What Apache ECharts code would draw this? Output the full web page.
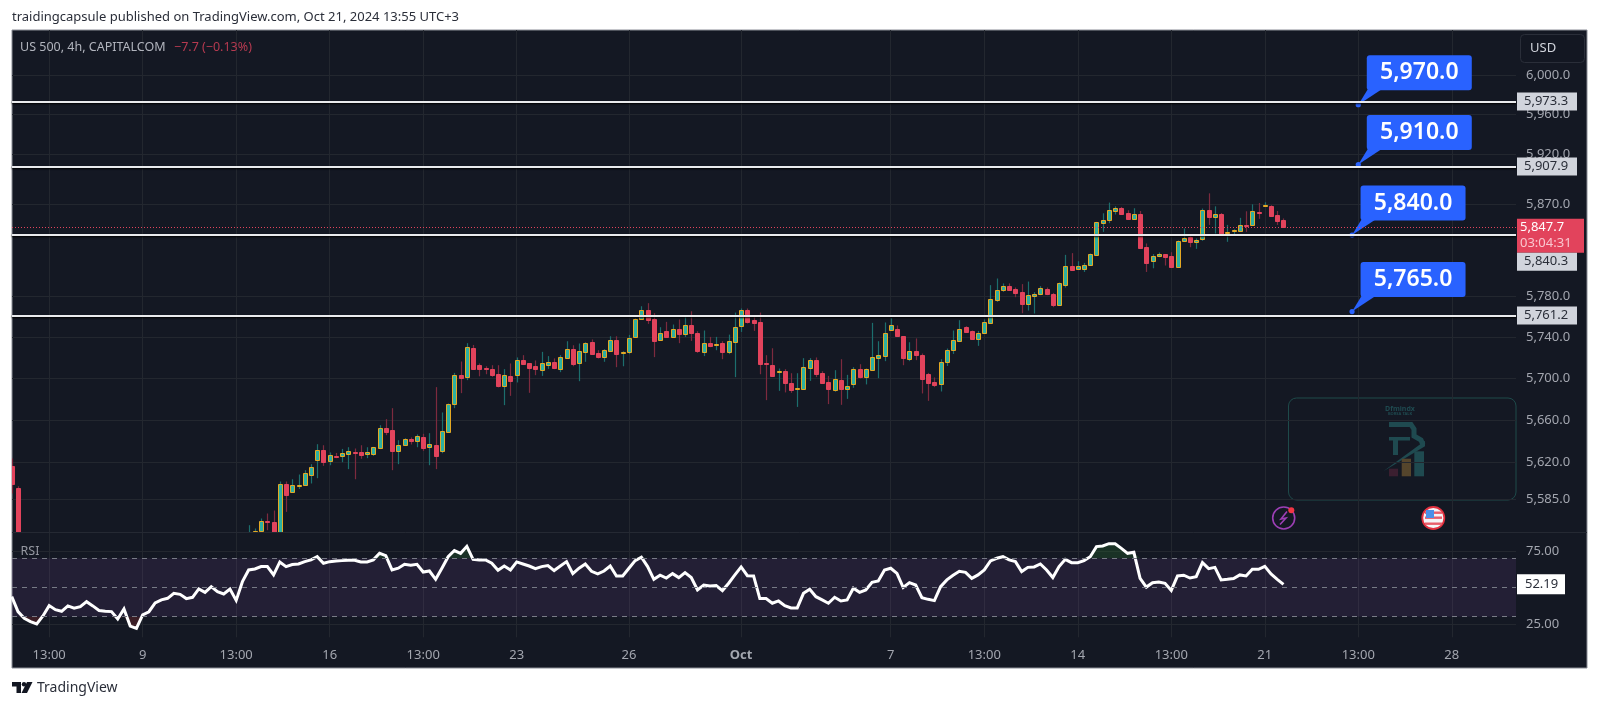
<!DOCTYPE html>
<html><head><meta charset="utf-8">
<style>html,body{margin:0;padding:0;background:#fff}#c{width:1600px;height:707px}</style>
<script src="https://cdn.jsdelivr.net/npm/echarts@6/dist/echarts.min.js"></script>
</head><body><div id="c"></div>
<script>
// Arrays start at bar -1. Bars -1, 0 and 37-203 are visible; bars 1-36 lie below the visible price range.
const firstBar = -1;
const hiddenBars = Array(36).fill(null);
const opens = [5616.7,5595.8,...hiddenBars,
5540,5554,5555,5564.5,5563.5,5550,5599.3,5592,5598.5,5598.4,5608.5,5621.8,5631.9,
5621.1,5626.5,5625.9,5627.8,5630,5629.4,5627.8,5627.8,5633.8,5652.9,5650.4,5630.4,5636.3,5642.7,5640.1,5643.7,5634.4,5636.3,5630.4,5649,
5675.3,5704,5701.5,5730,5713,5710.1,5709.8,5704.3,5692.8,5702.7,5703.1,5717.9,5714.7,5712,5708.2,5713.3,5716.3,5709.8,5720.1,5729.1,5715.3,5725.9,5735.9,5724.6,5720.8,5726.8,5737.5,5724.6,5725.3,5740.4,
5757.9,5767,5757.6,5737.2,5746.2,5740.4,5747.6,5743,5752.4,5744.6,5725.9,5734.3,5732.3,5734.6,5725.6,5735.6,5751,5767,5756.6,5754.7,5715,5713,5706.6,5707.2,5696,5690.2,5690.2,5710.4,5717.6,5705.3,5696.7,5689.3,5698.6,5690.2,5694.5,5709.8,5701.8,5707.9,5720.1,5721.8,
5746.9,5747.9,5741,5719.1,5726.5,5722.9,5704.3,5697,5694.8,5716,5727.5,5736.2,5749.8,5746.2,5738.8,5744,5754,5776.4,5785.9,5789.8,5786.6,5783.9,5772.2,5780.3,5782.2,5786.9,5782.2,5771.5,5791,5810,5806.7,5806.7,5810.3,5820.5,
5851.7,5854.7,5863.8,5867.1,5862.2,5856,5860.6,5828,5814.5,5818.9,5821.2,5819.2,5808.6,5833.7,5838,5832.7,5835.7,5864.5,5858,5861.2,5842.4,5844.1,5844.1,5850.4,5850,5863.2,5868.5,5869.2,5859.4,5854.7];
const closes = [5599.3,5545,...hiddenBars,
5550,5555,5564.5,5564,5545,5599.3,5589.2,5598.4,5599,5609.5,5615.4,5631.9,5620.2,
5626.8,5626,5628.7,5630.4,5629.4,5626.8,5629.4,5634.4,5652.9,5648.8,5630.9,5636.3,5642.7,5640.1,5645,5633.8,5637,5626.1,5649.4,5675.6,
5703.7,5700.5,5731,5709.8,5709.8,5708.9,5703.7,5692.8,5703.4,5697.6,5717.9,5714.3,5710.4,5708.9,5714.7,5716.3,5710.4,5720.5,5729.1,5714,5726.5,5734.3,5724.3,5720.8,5727.5,5737.5,5724.3,5725.6,5739.8,5757.3,
5766.6,5756.9,5736.2,5744.6,5740.4,5747.6,5743,5752.4,5744.3,5726.5,5734.3,5731.7,5733.3,5725.6,5736.2,5749.8,5767,5755,5754,5714,5714.3,5702.7,5707.2,5695.4,5689,5690.9,5711.1,5717.6,5704.3,5696,5690.2,5699.6,5690.2,5692.8,5709.5,5701.8,5708.9,5720.5,5722.4,5743.7,
5751.5,5741,5719.8,5726.5,5723.3,5699.6,5696,5694.1,5715.7,5727.5,5736.9,5747.9,5745.2,5738.8,5744.6,5754.7,5777.1,5785.6,5790.1,5785.9,5783.2,5772.2,5780.7,5781.7,5787.8,5781.9,5771.2,5792.5,5810,5805.7,5810,5811,5821.2,5852.4,
5855,5865.2,5867.1,5861.2,5856,5860.3,5827.1,5812.5,5819.2,5821.2,5817.9,5808.3,5834,5836.7,5832.7,5835,5865.2,5858,5861.2,5841.5,5843.4,5844.8,5850.4,5849.7,5863.8,5862.2,5869.5,5859,5854,5847.7];
const highs = [5623.7,5597.4,...hiddenBars,
5560.7,5557.6,5567,5571.7,5574.5,5601.9,5601.9,5604,5608.5,5612.6,5618.3,5637.3,5636.3,
5629.4,5629,5632.8,5634.4,5633.2,5636.3,5634.4,5634.7,5655.4,5661.2,5671.7,5641.1,5643,5643.7,5646.6,5647.2,5647.8,5691.9,5667.6,5676.2,
5705.6,5716.6,5734.3,5732.6,5714.7,5712,5713,5713,5709.2,5714.7,5720.5,5722.7,5715,5717.6,5725.9,5721.8,5719.6,5722.7,5736.2,5732.3,5734,5735.2,5737.9,5727.5,5728.5,5741,5741,5726.5,5742.3,5758.3,
5770.2,5773.2,5763.4,5749.8,5755,5752.4,5757.3,5761.4,5765.3,5745.9,5746.6,5740.4,5740.4,5736.2,5742.6,5764,5768,5768,5760.8,5764,5722.7,5729.4,5709.8,5709.2,5705.3,5705.3,5719.8,5719.8,5720.5,5707.2,5702.7,5708.2,5718.8,5703.7,5711.1,5714,5709.8,5754,5736.2,5754.4,
5758.5,5751.5,5741,5735.2,5738.9,5724.3,5705.6,5701.2,5718.8,5729.1,5746.6,5756.6,5750.8,5746.6,5746.2,5757.3,5790.8,5797.3,5792.5,5792.5,5788.5,5791.8,5794.3,5783.9,5789.8,5788.5,5783.2,5793.4,5820.5,5822.2,5814.2,5812.6,5821.8,5853,
5861.5,5872.1,5868.4,5867.8,5864.5,5866.5,5863.8,5831.7,5821.2,5822.8,5821.2,5823.1,5834.7,5846.5,5839.6,5836.7,5866.2,5881.3,5868.4,5861.8,5850,5845.7,5857,5863.5,5870.4,5871.7,5872.4,5869.5,5863.8,5856.4];
const lows = [5590.5,5540,...hiddenBars,
5535,5552,5553,5556,5540,5545,5573.2,5592,5594.8,5597.7,5600,5605,5616.7,
5617.3,5624,5620.2,5613.6,5604,5623.4,5624,5626.2,5632.6,5645.9,5612.6,5618.3,5636,5637,5634.4,5630.9,5617.3,5613.6,5628.7,5648.8,
5671.7,5686.1,5698.6,5708.9,5702.3,5704.3,5701.8,5691.6,5674.6,5683.5,5696.4,5714,5686.4,5703.4,5702.7,5709.5,5709.2,5706.3,5719.8,5712,5697.6,5716.3,5722.9,5719.5,5716.3,5726.2,5711.1,5712,5723.7,5739.8,
5757.3,5753,5720.8,5736.5,5739.8,5739.8,5734.3,5740.4,5736.5,5724.9,5721.8,5730.4,5727.5,5718.8,5723.7,5701.5,5745.2,5753.4,5746.2,5704.3,5679.4,5702.4,5688.3,5686.8,5686.4,5672.9,5690,5697.9,5701.5,5695.4,5675.6,5687.4,5674.9,5680.6,5691.2,5700.2,5694.5,5707.9,5700.5,5716.9,
5746.2,5740.4,5713,5716.9,5717.9,5685.8,5678.7,5691.9,5687.7,5712.3,5723.9,5735.9,5744.6,5738.5,5731.7,5743.7,5754,5774.4,5784.2,5785.6,5779,5763.4,5766,5763.1,5781,5781,5769.3,5771.2,5788.5,5805.4,5806.1,5803.7,5810,5820.5,
5843.1,5851.7,5860.3,5860.8,5855.4,5855.4,5826.4,5803.7,5807.3,5818.2,5810,5807.7,5808.3,5833.3,5828,5826.4,5834.3,5850,5841.5,5839.8,5833.3,5839.8,5843.8,5843.1,5849,5856,5867.8,5859,5850,5847.7];
// RSI readings, first value belongs to bar -1
const rsiValues = [43.7,33.5,28.9,26.6,25,30.5,37.6,34.8,33.7,37.4,35.8,36.9,40.3,37.4,34.2,33.7,33.5,28.4,35.3,23.6,22,31.2,33.4,39.4,
41.5,42.6,46,45.3,42.4,43.3,49,46.7,50.6,47.2,45.6,49,41.2,54,62,62.7,64.3,64.3,58.6,67.5,64.3,65.7,66.1,67.7,68.9,71.1,66.6,67.7,68.2,68.4,68.6,68.6,67.5,67.5,68.9,73.4,71.8,62,63.2,65.9,65.2,65.9,60.6,61.3,55.6,
63.2,71.1,75.3,73.4,78.2,69.3,68.9,68.9,66.6,61.8,64.7,62,67.5,66.1,64.7,62.9,64.3,65,61.6,64.7,67.7,59.5,63.2,66.1,61.1,59.3,61.3,64.7,57.9,57.9,63.2,68.4,70.7,64.3,55.6,58.4,56.5,59.5,56.8,60.2,56.8,48.3,51.7,51,51.3,47.9,52.9,58.6,64.1,58.1,57.9,42.4,42.4,39.2,40.8,37.6,36,36,46,48.8,43.7,41.5,39.2,43.3,40.8,41.5,49.5,46.7,
48.3,53.6,54.5,62,63.2,59.7,50,53.3,51.7,43,41.9,41,50.6,55.2,58.4,61.1,60.4,56.3,58.6,62,68.2,70,71.1,68.9,67.7,60.9,63.8,64.1,66.1,62,56.8,64.3,69.3,67,67,68.4,71.1,78,78.4,80,80,76.8,73.4,74.1,56.3,50.3,53.3,53.8,52.9,48,57.9,58.4,56.5,57.4,67,62.9,63.8,55.2,55.6,56.1,58.6,57.9,62.5,62.5,64.5,59.3,55.6,52.19];
const xTickBars   = [5,20,35,50,65,80,98,116,140,155,170,185,200,215,230];
const xTickLabels = ['13:00','9','13:00','16','13:00','23','26','Oct','7','13:00','14','13:00','21','13:00','28'];
const priceTicks  = [6000,5960,5920,5870,5780,5740,5700,5660,5620,5585];
const rsiTicks    = [75,25];
const rsiLevels   = [70,50,30];
const levelValues = [5973.3,5907.9,5840.3,5761.2];
const levelTagShift = [0,0,27,0];
const calloutBars   = [215,215,214,214];
const calloutPrices = [5970,5910,5840,5765];
const lastPrice = 5847.7, lastCountdown = '03:04:31', lastRsi = 52.19;

const FONT = '"Noto Sans","Open Sans",sans-serif';
const fmt1 = v => Number(v).toLocaleString('en-US',{minimumFractionDigits:1,maximumFractionDigits:1});
const xMin = -0.9625, xMax = 240.3;
const candleData = opens.map((o,k)=>o==null?null:[k+firstBar,o,highs[k],lows[k],closes[k]]).filter(Boolean);
const rsiData = rsiValues.map((v,k)=>[k+firstBar,v]);

function renderCandle(params, api){
  const i=api.value(0), o=api.value(1), h=api.value(2), l=api.value(3), c=api.value(4);
  const up = c>=o;
  const x = Math.round(api.coord([i,o])[0]);
  const yo=api.coord([i,o])[1], yc=api.coord([i,c])[1], yh=api.coord([i,h])[1], yl=api.coord([i,l])[1];
  const top=Math.round(Math.min(yo,yc)), bot=Math.round(Math.max(yo,yc));
  const hgt=Math.max(bot-top,1);
  return {type:'group',children:[
    {type:'rect',shape:{x:x-0.1,y:yh,width:1.2,height:yl-yh},style:{fill:up?'#1c6e6d':'#7d2a3e'}},
    {type:'rect',shape:{x:x-1.5,y:top+0.5,width:4,height:hgt},
     style:{fill:up?'#2bb0a2':'#e2435c',stroke:up?'#e5a823':'#e2435c',lineWidth:1}}
  ]};
}
function renderCallout(params, api){
  const p=api.coord([api.value(0),api.value(1)]);
  const bx=p[0]+8.5, by=p[1]-49.5;
  const blue='#2962ff';
  return {type:'group',children:[
    {type:'polygon',shape:{points:[[p[0],p[1]],[bx+1,by+34],[bx+15,by+34]]},style:{fill:blue}},
    {type:'rect',shape:{x:bx,y:by,width:105,height:35,r:3},style:{fill:blue}},
    {type:'circle',shape:{cx:p[0],cy:p[1],r:2.6},style:{fill:blue}},
    {type:'text',x:bx+52.5,y:by+17.5,style:{text:fmt1(api.value(1)),fill:'#fff',font:'600 23px '+FONT,align:'center',verticalAlign:'middle'}}
  ]};
}
const txt=(t,x,y,font,fill,extra)=>({type:'text',z:20,silent:true,style:Object.assign({text:t,x,y,font:font+' '+FONT,fill,verticalAlign:'middle'},extra||{})});
const chart = echarts.init(document.getElementById('c'),null,{renderer:'canvas'});
const gridLine={show:true,lineStyle:{color:'#23272f',width:1}};
const wm='#1f4a50';
chart.setOption({
  animation:false,
  backgroundColor:'#ffffff',
  grid:[{left:12,right:84,top:30,height:502},{left:12,right:84,top:532,height:105.3}],
  xAxis:[0,1].map(g=>({
    type:'value',gridIndex:g,min:xMin,max:xMax,
    axisLine:{show:false},
    axisTick:{show:false,customValues:xTickBars},
    splitLine:gridLine,
    axisLabel:g===0?{show:false,customValues:xTickBars}:{
      show:true,customValues:xTickBars,margin:11,
      formatter:v=>{const l=xTickLabels[xTickBars.indexOf(v)];return l==='Oct'?'{b|Oct}':l;},
      color:'#a3a6af',fontSize:13,fontFamily:FONT,hideOverlap:false,showMinLabel:true,showMaxLabel:true,
      rich:{b:{fontWeight:'bold',color:'#a3a6af',fontSize:13,fontFamily:FONT}}
    }
  })),
  yAxis:[
    {type:'log',gridIndex:0,position:'right',min:5554.3,max:6045.8,
     axisLine:{show:false},axisTick:{show:false,customValues:priceTicks},splitLine:gridLine,minorSplitLine:{show:false},
     axisLabel:{customValues:priceTicks,formatter:v=>fmt1(v),color:'#a3a6af',fontSize:13,fontFamily:FONT,margin:10,showMinLabel:true,showMaxLabel:true,hideOverlap:false}},
    {type:'value',gridIndex:1,position:'right',min:15.9,max:88,
     axisLine:{show:false},axisTick:{show:false,customValues:rsiTicks},splitLine:gridLine,
     axisLabel:{customValues:rsiTicks,formatter:v=>Number(v).toFixed(2),color:'#a3a6af',fontSize:13,fontFamily:FONT,margin:10}}
  ],
  series:[
    {type:'custom',name:'US 500',xAxisIndex:0,yAxisIndex:0,z:2,clip:true,renderItem:renderCandle,
     encode:{x:0,y:[1,2,3,4]},data:candleData,silent:true},
    {type:'line',name:'levels',xAxisIndex:0,yAxisIndex:0,z:3,data:[],silent:true,
     markLine:{silent:true,symbol:'none',animation:false,precision:1,data:[
       {yAxis:lastPrice,lineStyle:{color:'#e2435c',type:[1,2],width:1},
        label:{position:'end',distance:1,offset:[0,8.5],formatter:fmt1(lastPrice)+'\n{t|'+lastCountdown+'}',
          backgroundColor:'#e2435c',color:'#fff',fontSize:13,fontFamily:FONT,width:62,height:32,lineHeight:16,align:'left',padding:[1,2,1,3],
          rich:{t:{color:'#f9c6cf',fontSize:13,fontFamily:FONT,lineHeight:16}}}},
       ...levelValues.map((v,k)=>({yAxis:v,lineStyle:{color:'#e9eaed',type:'solid',width:1.8,shadowColor:'#000',shadowBlur:2,shadowOffsetY:1},
        label:{position:'end',distance:1,offset:[0,levelTagShift[k]],formatter:fmt1(v),backgroundColor:'#d1d4dc',color:'#2a2e39',
          fontSize:13,fontFamily:FONT,width:53,height:18,lineHeight:18,align:'left',padding:[0,0,0,7]}}))
     ]}},
    {type:'custom',name:'targets',xAxisIndex:0,yAxisIndex:0,z:4,clip:false,silent:true,renderItem:renderCallout,
     encode:{x:0,y:1},data:calloutBars.map((b,k)=>[b,calloutPrices[k]])},
    {type:'line',name:'overbought',xAxisIndex:1,yAxisIndex:1,z:2,showSymbol:false,silent:true,
     data:rsiData.map(d=>[d[0],Math.max(d[1],70)]),lineStyle:{width:0},
     areaStyle:{origin:70,color:'rgba(46,125,50,0.38)'}},
    {type:'line',name:'oversold',xAxisIndex:1,yAxisIndex:1,z:2,showSymbol:false,silent:true,
     data:rsiData.map(d=>[d[0],Math.min(d[1],30)]),lineStyle:{width:0},
     areaStyle:{origin:30,color:'rgba(180,50,50,0.35)'}},
    {type:'line',name:'RSI',xAxisIndex:1,yAxisIndex:1,z:3,showSymbol:false,silent:true,
     data:rsiData,lineStyle:{color:'#ffffff',width:3,join:'miter'},
     markArea:{silent:true,itemStyle:{color:'rgba(150,80,190,0.12)'},data:[[{yAxis:30},{yAxis:70}]]},
     markLine:{silent:true,symbol:'none',animation:false,
       data:rsiLevels.map(v=>({yAxis:v,lineStyle:{color:'#787b86',type:[5,5],width:1},label:{show:false}})).concat([
         {yAxis:lastRsi,lineStyle:{color:'rgba(0,0,0,0)',width:0,type:'solid'},label:{show:true,position:'end',distance:1,formatter:lastRsi.toFixed(2),backgroundColor:'#fff',color:'#2a2e39',
           fontSize:13,fontFamily:FONT,width:40,height:20,lineHeight:20,align:'left',padding:[0,0,0,8]}}])}}
  ],
  graphic:{elements:[
    {type:'rect',z:-100,silent:true,shape:{x:12,y:30,width:1575,height:638},style:{fill:'#141823',stroke:'#8a8d96',lineWidth:1}},
    {type:'line',z:1,silent:true,shape:{x1:12,y1:532.5,x2:1587,y2:532.5},style:{stroke:'#252933',lineWidth:1}},
    txt('traidingcapsule published on TradingView.com, Oct 21, 2024 13:55 UTC+3',12,17,'13px','#2a2e39'),
    txt('US 500, 4h, CAPITALCOM',20,47.5,'12.5px','#b2b5be'),
    txt('\u22127.7 (\u22120.13%)',174,47.5,'12.5px','#b53a50'),
    txt('RSI',20.5,551,'12.5px','#9598a1'),
    // USD button
    {type:'rect',z:20,silent:true,shape:{x:1520.5,y:34.5,width:64,height:28,r:4},style:{fill:'#131722',stroke:'#2a2e39',lineWidth:1}},
    txt('USD',1530,48.5,'13px','#d1d4dc'),
    // Watermark panel and logo
    {type:'rect',z:-10,silent:true,shape:{x:1288.5,y:398,width:227.5,height:102,r:8},style:{fill:'none',stroke:'#1e4a4a',lineWidth:1}},
    txt('Dfmindx',1400,409.3,'bold 7px',wm,{align:'center'}),
    txt('BORSA TALK',1400,413.8,'bold 4px',wm,{align:'center'}),
    {type:'polyline',z:-10,silent:true,shape:{points:[[1389,424.5],[1411,424.5],[1414,429],[1414,436],[1421,440],[1423,445]]},style:{stroke:wm,lineWidth:5,fill:'none'}},
    {type:'rect',z:-10,silent:true,shape:{x:1389,y:437,width:21,height:3.5},style:{fill:wm}},
    {type:'rect',z:-10,silent:true,shape:{x:1393,y:440,width:5,height:15},style:{fill:wm}},
    {type:'polygon',z:-10,silent:true,shape:{points:[[1383.3,471.3],[1425,440.7],[1425,446.3]]},style:{fill:wm}},
    {type:'rect',z:-10,silent:true,shape:{x:1389,y:468.7,width:9,height:7.6},style:{fill:'#3b1f30'}},
    {type:'rect',z:-10,silent:true,shape:{x:1401.7,y:458.7,width:9.3,height:17.6},style:{fill:'#55452c'}},
    {type:'rect',z:-10,silent:true,shape:{x:1414.3,y:451.3,width:9.7,height:25},style:{fill:wm}},
    // News icon
    {type:'circle',z:20,silent:true,shape:{cx:1283.7,cy:518,r:11},style:{fill:'#141823',stroke:'#9c3fb5',lineWidth:1.6}},
    {type:'polyline',z:20,silent:true,shape:{points:[[1287,511.5],[1281,519],[1286,518],[1280,524.5]]},style:{stroke:'#9c3fb5',lineWidth:1.6,fill:'none'}},
    {type:'circle',z:21,silent:true,shape:{cx:1291.3,cy:510.3,r:3},style:{fill:'#f23645'}},
    // US flag icon
    {type:'circle',z:20,silent:true,shape:{cx:1433.3,cy:518,r:11},style:{fill:'#f4f4f6',stroke:'#e2303f',lineWidth:1.8}},
    {type:'rect',z:21,silent:true,shape:{x:1425,y:511.5,width:17,height:2.4},style:{fill:'#e85d6a'}},
    {type:'rect',z:21,silent:true,shape:{x:1425,y:516.5,width:17,height:2.4},style:{fill:'#e85d6a'}},
    {type:'rect',z:21,silent:true,shape:{x:1425,y:522.5,width:17,height:2.4},style:{fill:'#e85d6a'}},
    {type:'rect',z:22,silent:true,shape:{x:1426,y:510,width:8,height:8},style:{fill:'#4a90e8'}},
    // TradingView mark
    {type:'polygon',z:20,silent:true,shape:{points:[[12,682],[21,682],[21,693],[16.5,693],[16.5,686.5],[12,686.5]]},style:{fill:'#131722'}},
    {type:'circle',z:20,silent:true,shape:{cx:24,cy:684.3,r:2.2},style:{fill:'#131722'}},
    {type:'polygon',z:20,silent:true,shape:{points:[[27,682],[32.5,682],[27,693],[21.5,693]]},style:{fill:'#131722'}},
    txt('TradingView',37,688,'14px','#2a2e39')
  ]}
});
</script></body></html>
